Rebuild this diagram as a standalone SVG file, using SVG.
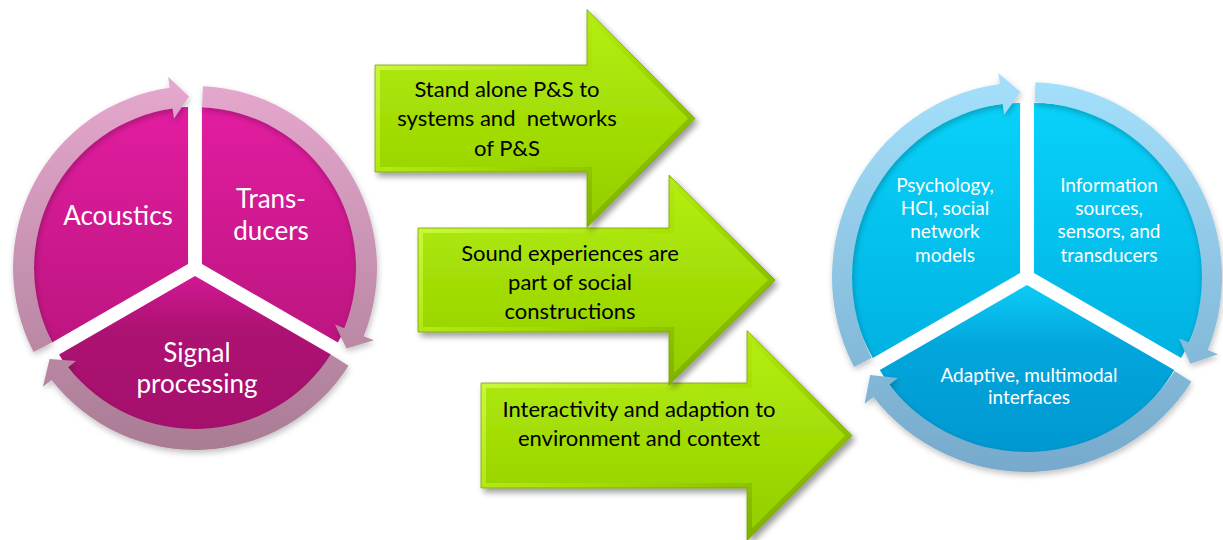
<svg xmlns="http://www.w3.org/2000/svg" width="1223" height="540" viewBox="0 0 1223 540">
  <defs>
    <style>
      .lbl-w { font-family: Lato, "Open Sans", "Liberation Sans", sans-serif; fill: #ffffff; text-anchor: middle; }
      .lbl-b { font-family: Lato, "Open Sans", "Liberation Sans", sans-serif; fill: #000000; text-anchor: middle; font-size: 22px; }
      .big { font-size: 26px; }
      .small { font-size: 19px; }
      .rim { fill: url(#greenBevel); stroke: #76a200; stroke-width: 0.8; }
      .face { fill: url(#greenFace); }
    </style>
    <!-- magenta cycle -->
    <linearGradient id="magTop" x1="0" y1="0" x2="0" y2="1">
      <stop offset="0" stop-color="#e21da0"/>
      <stop offset="1" stop-color="#bd1580"/>
    </linearGradient>
    <linearGradient id="magBottom" x1="0" y1="0" x2="0" y2="1">
      <stop offset="0" stop-color="#d01894"/>
      <stop offset="0.35" stop-color="#ac1272"/>
      <stop offset="1" stop-color="#a5106c"/>
    </linearGradient>
    <linearGradient id="pinkRing" gradientUnits="userSpaceOnUse" x1="0" y1="85" x2="0" y2="455">
      <stop offset="0" stop-color="#e4a7cd"/>
      <stop offset="1" stop-color="#a97b93"/>
    </linearGradient>
    <!-- cyan cycle -->
    <linearGradient id="cyanTop" x1="0" y1="0" x2="0" y2="1">
      <stop offset="0" stop-color="#08d2fa"/>
      <stop offset="1" stop-color="#00b2e2"/>
    </linearGradient>
    <linearGradient id="cyanBottom" x1="0" y1="0" x2="0" y2="1">
      <stop offset="0" stop-color="#0cccf6"/>
      <stop offset="0.35" stop-color="#02a6dc"/>
      <stop offset="1" stop-color="#0098d0"/>
    </linearGradient>
    <linearGradient id="blueRing" gradientUnits="userSpaceOnUse" x1="0" y1="75" x2="0" y2="475">
      <stop offset="0" stop-color="#a4e0fb"/>
      <stop offset="1" stop-color="#76a9cb"/>
    </linearGradient>
    <!-- green block arrows -->
    <linearGradient id="greenFace" x1="0" y1="0" x2="0" y2="1">
      <stop offset="0" stop-color="#b2ee0c"/>
      <stop offset="1" stop-color="#94ce00"/>
    </linearGradient>
    <linearGradient id="greenBevel" x1="0" y1="0" x2="1" y2="1">
      <stop offset="0" stop-color="#d6ff52"/>
      <stop offset="0.5" stop-color="#a6e000"/>
      <stop offset="1" stop-color="#6f9e00"/>
    </linearGradient>
    <filter id="shadow" x="-10%" y="-10%" width="130%" height="130%">
      <feGaussianBlur in="SourceAlpha" stdDeviation="3"/>
      <feOffset dx="3" dy="4" result="b"/>
      <feComponentTransfer><feFuncA type="linear" slope="0.4"/></feComponentTransfer>
      <feMerge><feMergeNode/><feMergeNode in="SourceGraphic"/></feMerge>
    </filter>
    <filter id="softShadow" x="-10%" y="-10%" width="130%" height="130%">
      <feGaussianBlur in="SourceAlpha" stdDeviation="3"/>
      <feOffset dx="1" dy="3" result="b"/>
      <feComponentTransfer><feFuncA type="linear" slope="0.25"/></feComponentTransfer>
      <feMerge><feMergeNode/><feMergeNode in="SourceGraphic"/></feMerge>
    </filter>
  </defs>

  <!-- Left cycle: pie sectors -->
  <g id="acoustics">
    <path d="M188.07 264 L52.11 342.5 A157 157 0 0 1 188.07 107 Z" fill="url(#magTop)"/>
    <text class="lbl-w big" x="118" y="225">Acoustics</text>
  </g>
  <g id="transducers">
    <path d="M201.93 264 L201.93 107 A157 157 0 0 1 337.89 342.5 Z" fill="url(#magTop)"/>
    <text class="lbl-w big" x="271" y="208">Trans-</text>
    <text class="lbl-w big" x="271" y="240">ducers</text>
  </g>
  <g id="signal-processing">
    <path d="M195 276 L330.96 354.5 A157 157 0 0 1 59.04 354.5 Z" fill="url(#magBottom)"/>
    <text class="lbl-w big" x="197" y="362">Signal</text>
    <text class="lbl-w big" x="197" y="393">processing</text>
  </g>

  <!-- Right cycle: pie sectors -->
  <g id="psychology">
    <path d="M1020.07 273 L872.85 358 A170 170 0 0 1 1020.07 103 Z" fill="url(#cyanTop)"/>
    <text class="lbl-w small" x="945" y="192">Psychology,</text>
    <text class="lbl-w small" x="945" y="215">HCI, social</text>
    <text class="lbl-w small" x="945" y="238">network</text>
    <text class="lbl-w small" x="945" y="262">models</text>
  </g>
  <g id="information-sources">
    <path d="M1033.93 273 L1033.93 103 A170 170 0 0 1 1181.15 358 Z" fill="url(#cyanTop)"/>
    <text class="lbl-w small" x="1109" y="192">Information</text>
    <text class="lbl-w small" x="1109" y="215">sources,</text>
    <text class="lbl-w small" x="1109" y="238">sensors, and</text>
    <text class="lbl-w small" x="1109" y="262">transducers</text>
  </g>
  <g id="adaptive-interfaces">
    <path d="M1027 285 L1174.22 370 A170 170 0 0 1 879.78 370 Z" fill="url(#cyanBottom)"/>
    <text class="lbl-w small" x="1029" y="382">Adaptive, multimodal</text>
    <text class="lbl-w small" x="1029" y="404">interfaces</text>
  </g>

  <!-- Connectors: circular arrows round each cycle, and the three block arrows -->
  <g id="connectors">
    <g fill="url(#pinkRing)" filter="url(#softShadow)">
      <path d="M33.57 352.03 A182 182 0 0 1 169.67 87.77 L168.13 76.87 L189.01 96.60 L173.98 118.46 L172.59 108.56 A161 161 0 0 0 52.19 342.33 Z"/>
      <path d="M202.94 86.17 A182 182 0 0 1 363.75 336.18 L373.95 340.30 L346.42 348.52 L335.01 324.56 L344.28 328.31 A161 161 0 0 0 202.02 107.15 Z"/>
      <path d="M348.50 365.79 A182 182 0 0 1 51.58 380.06 L42.92 386.83 L49.57 358.88 L76.01 360.97 L68.13 367.13 A161 161 0 0 0 330.79 354.51 Z"/>
    </g>
    <g fill="url(#blueRing)" filter="url(#softShadow)">
      <path d="M854.03 367.03 A195 195 0 0 1 999.86 83.89 L998.32 73.00 L1020.54 92.11 L1004.17 114.59 L1002.64 103.70 A175 175 0 0 0 871.77 357.80 Z"/>
      <path d="M1035.50 82.19 A195 195 0 0 1 1207.80 350.05 L1218.00 354.17 L1190.34 363.86 L1179.06 338.43 L1189.26 342.56 A175 175 0 0 0 1034.63 102.17 Z"/>
      <path d="M1191.46 381.77 A195 195 0 0 1 873.34 397.06 L864.67 403.83 L870.12 375.03 L897.77 377.97 L889.10 384.75 A175 175 0 0 0 1174.60 371.03 Z"/>
    </g>

    <g id="arrow-interactivity" filter="url(#shadow)">
      <polygon class="rim" points="481,383 747,383 747,330.5 852,435.5 747,540.5 747,488 481,488"/>
      <polygon class="face" points="486,388 752,388 752,342.5 845,435.5 752,528.5 752,483 486,483"/>
    </g>
    <g id="arrow-sound-experiences" filter="url(#shadow)">
      <polygon class="rim" points="418,228 669,228 669,175 775,280 669,385 669,332 418,332"/>
      <polygon class="face" points="423,233 674,233 674,187 768,280 674,373 674,327 423,327"/>
    </g>
    <g id="arrow-standalone" filter="url(#shadow)">
      <polygon class="rim" points="375,65 587,65 587,9.5 695,118.5 587,227.5 587,172 375,172"/>
      <polygon class="face" points="380,70 592,70 592,21.5 688,118.5 592,215.5 592,167 380,167"/>
    </g>
  </g>

  <!-- block arrow labels -->
  <g id="arrow-labels">
    <text class="lbl-b" x="507" y="97">Stand alone P&amp;S to</text>
    <text class="lbl-b" x="507" y="126" xml:space="preserve">systems and  networks</text>
    <text class="lbl-b" x="507" y="155.5">of P&amp;S</text>
    <text class="lbl-b" x="570" y="261">Sound experiences are</text>
    <text class="lbl-b" x="570" y="290">part of social</text>
    <text class="lbl-b" x="570" y="319">constructions</text>
    <text class="lbl-b" x="639" y="417">Interactivity and adaption to</text>
    <text class="lbl-b" x="639" y="446">environment and context</text>
  </g>
</svg>
